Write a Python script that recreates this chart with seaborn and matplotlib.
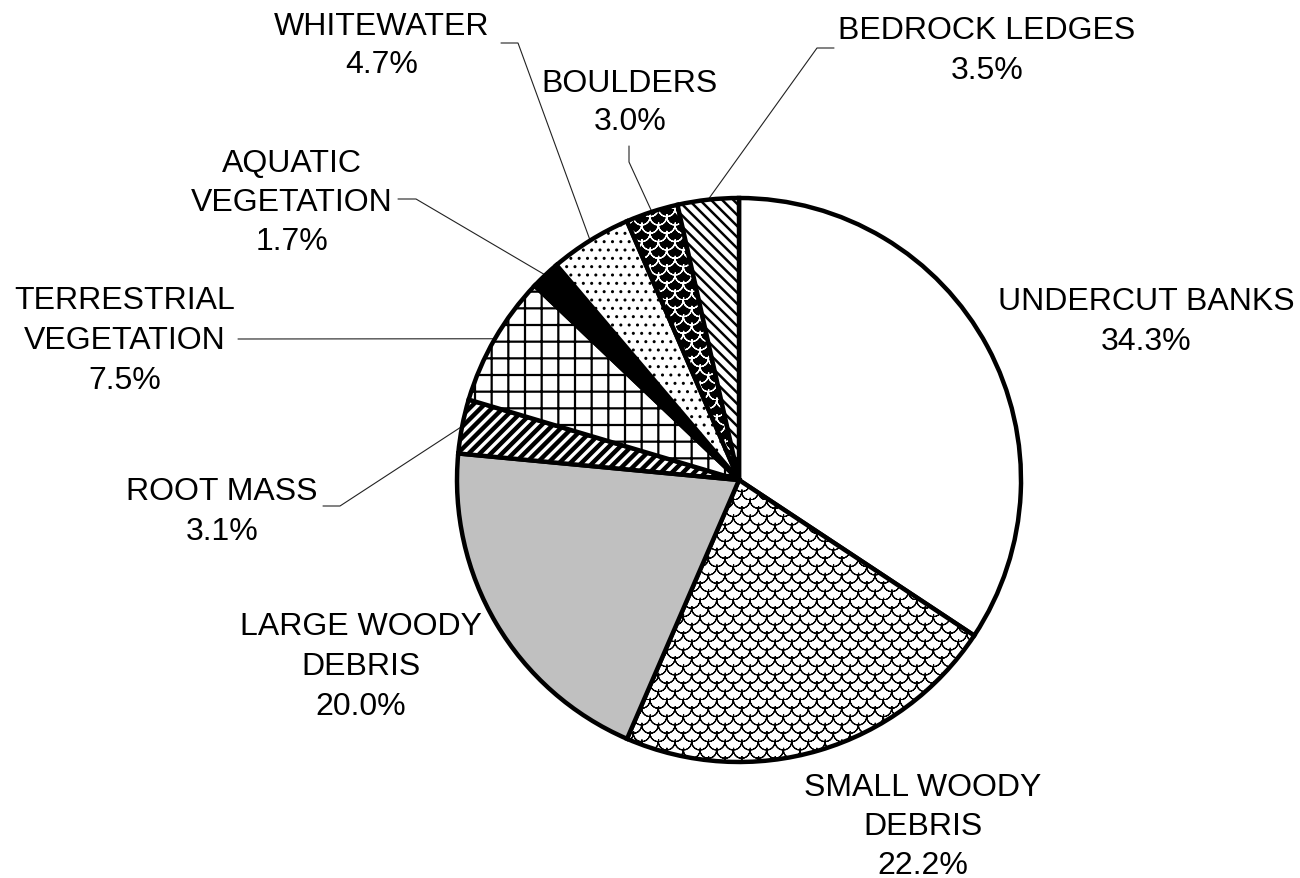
import warnings
import numpy as np
import matplotlib
matplotlib.use("Agg")
import matplotlib.pyplot as plt
import matplotlib.hatch as mhatch
from matplotlib.path import Path
import seaborn as sns

warnings.filterwarnings("ignore")

# ---- data -------------------------------------------------------------
categories = ["UNDERCUT BANKS", "SMALL WOODY\nDEBRIS", "LARGE WOODY\nDEBRIS",
              "ROOT MASS", "TERRESTRIAL\nVEGETATION", "AQUATIC\nVEGETATION",
              "WHITEWATER", "BOULDERS", "BEDROCK LEDGES"]
shares = [34.3, 22.2, 20.0, 3.1, 7.5, 1.7, 4.7, 3.0, 3.5]

face_colors = ["white", "white", "#c0c0c0", "white", "white", "black",
               "white", "black", "white"]
hatches = [None, "s", None, "///", "+", None, "..", "s", "\\\\\\"]
hatch_colors = ["black", "black", "black", "black", "black", "black",
                "black", "white", "black"]
hatch_widths = [1.0, 0.8, 1.0, 3.2, 1.6, 1.0, 1.0, 0.9, 1.8]

# label layout in pixel coordinates (y measured from top):
# centre x, baseline of first line, line pitch, leader start/elbow (or None)
label_x = [1146, 923, 361, 222, 125, 292, 382, 630, 987]
label_base = [310, 796, 635, 500, 309, 172, 35, 92, 39]
label_pitch = [40, 39, 40, 40, 40, 39, 38, 38, 40]
leader_pts = [None, None, None,
              [(323, 507), (340, 507)],
              [(238, 340)],
              [(398, 200), (416, 200)],
              [(501, 44), (518, 44)],
              [(629, 147), (629, 163)],
              [(834, 49), (817, 49)]]


# ---- fish-scale hatch ('s') --------------------------------------------
class ScaleHatch(mhatch.HatchPatternBase):
    seg = 10

    def __init__(self, hatch, density):
        n = hatch.count("s")
        self.cols = 6 * n
        self.rows = 12 * n
        # each arc is traced out and back so it encloses no area
        self.per_arc = 2 * (self.seg + 1)
        if n:
            self.num_vertices = (self.rows + 1) * (self.cols + 2) * self.per_arc
        else:
            self.num_vertices = 0

    def set_vertices_and_codes(self, vertices, codes):
        r = 0.5 / self.cols
        t = np.linspace(np.pi, 2 * np.pi, self.seg + 1)
        t = np.concatenate([t, t[::-1]])
        k = 0
        for j in range(self.rows + 1):
            y0 = j / self.rows
            off = (j % 2) * r
            for i in range(-1, self.cols + 1):
                cx = off + r + 2 * r * i
                sl = slice(k, k + self.per_arc)
                vertices[sl, 0] = cx + r * np.cos(t)
                vertices[sl, 1] = y0 + r * np.sin(t)
                codes[k] = Path.MOVETO
                codes[k + 1:k + self.per_arc] = Path.LINETO
                k += self.per_arc


mhatch._hatch_types.append(ScaleHatch)

# ---- style --------------------------------------------------------------
sns.set_theme(style="white")
plt.rcParams["font.family"] = ["Liberation Sans", "DejaVu Sans"]

W, H = 1300, 879
fig = plt.figure(figsize=(W / 100, H / 100), dpi=100)
ax = fig.add_axes([0, 0, 1, 1])


def py(y):
    return H - y


cx, cy, radius = 739, py(481), 282
wedges, _ = ax.pie(shares, startangle=90, counterclock=False,
                   center=(cx, cy), radius=radius,
                   colors=face_colors,
                   wedgeprops=dict(edgecolor="black", linewidth=3.2))

for w, h, hc, hw in zip(wedges, hatches, hatch_colors, hatch_widths):
    if h:
        w.set_hatch(h)
        w._hatch_color = matplotlib.colors.to_rgba(hc)
        if hasattr(w, "set_hatch_linewidth"):
            w.set_hatch_linewidth(hw)
        else:
            w._hatch_linewidth = hw

# ---- labels and leaders --------------------------------------------------
for name, val, x, base, pitch, pts, w in zip(categories, shares, label_x,
                                             label_base, label_pitch,
                                             leader_pts, wedges):
    lines = name.split("\n") + [f"{val:.1f}%"]
    for n, line in enumerate(lines):
        ax.text(x, py(base + pitch * n), line, ha="center", va="baseline",
                fontsize=23, color="black")
    if pts:
        mid = np.deg2rad((w.theta1 + w.theta2) / 2)
        ex = cx + radius * np.cos(mid)
        ey = cy + radius * np.sin(mid)
        xs = [p[0] for p in pts] + [ex]
        ys = [py(p[1]) for p in pts] + [ey]
        ax.plot(xs, ys, color="#222222", lw=0.8, zorder=0.5)

ax.set_xlim(0, W)
ax.set_ylim(0, H)
ax.set_aspect("auto")
ax.axis("off")

fig.savefig("out.png", dpi=100, facecolor="white")
